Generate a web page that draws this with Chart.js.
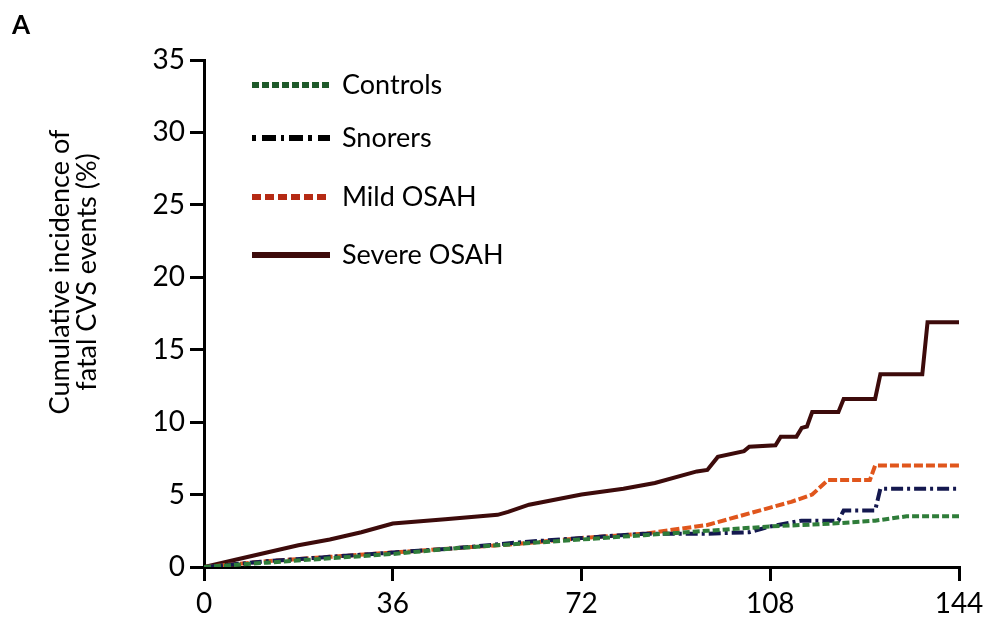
<!DOCTYPE html>
<html>
<head>
<meta charset="utf-8">
<script src="https://cdn.jsdelivr.net/npm/chart.js@4"></script>
<style>
  html, body { margin: 0; padding: 0; background: #fff; }
  #wrap { width: 993px; height: 627px; }
</style>
</head>
<body>
<div id="wrap"><canvas id="kmChart"></canvas></div>
<script>
  // months of follow-up and cumulative incidence (%)
  const seriesNames = ['Controls', 'Snorers', 'Mild OSAH', 'Severe OSAH'];
  const xTicks = [0, 36, 72, 108, 144];
  const yTicks = [0, 5, 10, 15, 20, 25, 30, 35];

  const controlsX = [0, 12, 24, 36, 48, 60, 72, 84, 96, 108, 120, 128, 134, 144];
  const controlsY = [0, 0.3, 0.6, 0.9, 1.3, 1.6, 1.9, 2.2, 2.5, 2.8, 3.0, 3.2, 3.5, 3.5];

  const snorersX = [0, 12, 24, 36, 48, 60, 72, 84, 96, 104, 108, 114, 121, 122, 128, 129, 144];
  const snorersY = [0, 0.4, 0.7, 1.0, 1.3, 1.7, 2.0, 2.3, 2.3, 2.4, 2.8, 3.2, 3.2, 3.9, 3.9, 5.4, 5.4];

  const mildX = [0, 12, 24, 36, 48, 60, 72, 84, 90, 96, 100, 104, 108, 112, 116, 119, 127, 128, 144];
  const mildY = [0, 0.4, 0.7, 1.0, 1.3, 1.6, 2.0, 2.3, 2.6, 2.9, 3.3, 3.7, 4.1, 4.5, 5.0, 6.0, 6.0, 7.0, 7.0];

  const severeX = [0, 6, 12, 18, 24, 30, 36, 46, 56, 58, 62, 72, 80, 86, 94, 96, 98, 103, 104, 109, 110, 113, 114, 115, 116, 121, 122, 128, 129, 137, 138, 144];
  const severeY = [0, 0.5, 1.0, 1.5, 1.9, 2.4, 3.0, 3.3, 3.6, 3.8, 4.3, 5.0, 5.4, 5.8, 6.6, 6.7, 7.6, 8.0, 8.3, 8.4, 9.0, 9.0, 9.6, 9.7, 10.7, 10.7, 11.6, 11.6, 13.3, 13.3, 16.9, 16.9];

  const toPoints = (xs, ys) => xs.map((x, i) => ({ x: x, y: ys[i] }));

  const FONT = 'Lato, "Open Sans", sans-serif';

  // legend inside the plot, plus panel letter and y title
  const extras = {
    id: 'extras',
    afterDraw(chart) {
      const ctx = chart.ctx;
      ctx.save();
      ctx.fillStyle = '#000';
      ctx.font = 'bold 26px ' + FONT;
      ctx.textBaseline = 'middle';
      ctx.fillText('A', 12, 26);

      // y title, two lines, rotated
      ctx.save();
      ctx.translate(73, 272);
      ctx.rotate(-Math.PI / 2);
      ctx.font = '27px ' + FONT;
      ctx.textAlign = 'center';
      ctx.fillText('Cumulative incidence of', 0, -13);
      ctx.fillText('fatal CVS events (%)', 0, 14);
      ctx.restore();

      const rows = [85, 138, 197, 255];
      chart.data.datasets.forEach((ds, i) => {
        const y = rows[i];
        ctx.beginPath();
        ctx.setLineDash(ds.legendDash || []);
        ctx.strokeStyle = ds.legendColor || ds.borderColor;
        ctx.lineWidth = 6;
        ctx.moveTo(252, y);
        ctx.lineTo(330, y);
        ctx.stroke();
        ctx.setLineDash([]);
        ctx.fillStyle = '#000';
        ctx.font = '27px ' + FONT;
        ctx.textAlign = 'left';
        ctx.fillText(ds.label, 342, y);
      });
      ctx.restore();
    }
  };

  new Chart(document.getElementById('kmChart'), {
    type: 'line',
    data: {
      datasets: [
        {
          label: seriesNames[0],
          data: toPoints(controlsX, controlsY),
          borderColor: '#2f7d3a',
          borderDash: [7, 3],
          legendDash: [7, 3],
          legendColor: '#1f5a2a'
        },
        {
          label: seriesNames[1],
          data: toPoints(snorersX, snorersY),
          borderColor: '#14184f',
          borderDash: [12, 4, 3, 4],
          legendDash: [4, 6, 14, 5, 3, 5, 14, 5],
          legendColor: '#000'
        },
        {
          label: seriesNames[2],
          data: toPoints(mildX, mildY),
          borderColor: '#e0561c',
          borderDash: [9, 3],
          legendDash: [9, 4],
          legendColor: '#b52a14'
        },
        {
          label: seriesNames[3],
          data: toPoints(severeX, severeY),
          borderColor: '#3d0b0b',
          legendColor: '#3d0b0b'
        }
      ]
    },
    options: {
      responsive: true,
      maintainAspectRatio: false,
      animation: false,
      elements: {
        point: { radius: 0 },
        line: { borderWidth: 4, tension: 0 }
      },
      layout: { padding: { top: 60, right: 34, left: 0, bottom: 0 } },
      plugins: {
        legend: { display: false },
        tooltip: { enabled: false }
      },
      scales: {
        x: {
          type: 'linear',
          min: 0,
          max: 144,
          afterBuildTicks: s => { s.ticks = xTicks.map(v => ({ value: v })); },
          afterFit: s => { s.height = 60; },
          border: { color: '#000', width: 3 },
          grid: { drawOnChartArea: false, drawTicks: true, tickLength: 14, color: '#000', lineWidth: 3 },
          ticks: { color: '#000', padding: 6, maxRotation: 0, font: { family: FONT, size: 28 } }
        },
        y: {
          type: 'linear',
          min: 0,
          max: 35,
          afterBuildTicks: s => { s.ticks = yTicks.map(v => ({ value: v })); },
          afterFit: s => { s.width = 204; },
          border: { color: '#000', width: 3 },
          grid: { drawOnChartArea: false, drawTicks: true, tickLength: 14, color: '#000', lineWidth: 3 },
          ticks: { color: '#000', padding: 5, font: { family: FONT, size: 28 } }
        }
      }
    },
    plugins: [extras]
  });
</script>
</body>
</html>
